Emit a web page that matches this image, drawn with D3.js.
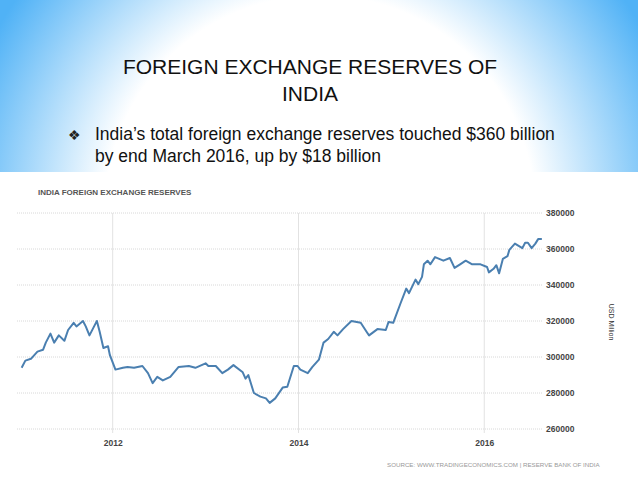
<!DOCTYPE html>
<html>
<head>
<meta charset="utf-8">
<script src="https://cdn.jsdelivr.net/npm/d3@7"></script>
<style>
  body { margin: 0; overflow: hidden; }
  text { font-family: "Liberation Sans", Arial, sans-serif; }
</style>
</head>
<body>
<div id="chart"></div>
<script>
// decimal years and reserves (USD million)
let years = [2011.02, 2011.06, 2011.12, 2011.19, 2011.25, 2011.28, 2011.33, 2011.37, 2011.42, 2011.48,
  2011.52, 2011.58, 2011.61, 2011.68, 2011.71, 2011.75, 2011.80, 2011.83, 2011.86, 2011.90,
  2011.95, 2011.97, 2012.03, 2012.11, 2012.16, 2012.23, 2012.32, 2012.38, 2012.43, 2012.48,
  2012.54, 2012.62, 2012.71, 2012.82, 2012.89, 2013.00, 2013.03, 2013.11, 2013.18, 2013.24,
  2013.30, 2013.40, 2013.43, 2013.46, 2013.52, 2013.59, 2013.65, 2013.69, 2013.75, 2013.83,
  2013.88, 2013.95, 2013.99, 2014.02, 2014.10, 2014.15, 2014.22, 2014.27, 2014.32, 2014.38,
  2014.42, 2014.48, 2014.57, 2014.67, 2014.74, 2014.76, 2014.85, 2014.94, 2014.97, 2015.02,
  2015.10, 2015.16, 2015.19, 2015.26, 2015.29, 2015.33, 2015.35, 2015.39, 2015.42, 2015.47,
  2015.56, 2015.63, 2015.68, 2015.74, 2015.80, 2015.87, 2015.96, 2016.03, 2016.05, 2016.10,
  2016.13, 2016.16, 2016.20, 2016.25, 2016.27, 2016.33, 2016.41, 2016.44, 2016.47, 2016.51,
  2016.55, 2016.58, 2016.62];
let reserves = [294000, 298000, 299000, 303000, 304000, 308000, 313000, 308000, 312000, 309000,
  315000, 319000, 317000, 320000, 317000, 312000, 317000, 320000, 314000, 305000,
  306000, 301000, 293000, 294000, 294500, 294000, 295000, 291000, 285500, 289000,
  287000, 289000, 294500, 295000, 294000, 296500, 295000, 295000, 291000, 293000,
  295500, 291500, 288000, 290000, 280000, 278000, 277000, 274500, 277000, 283000,
  283500, 295000, 295000, 293000, 291000, 294500, 298500, 308000, 310000, 314000,
  312000, 315500, 320000, 319000, 313500, 312000, 315500, 315000, 319500, 319000,
  330000, 338000, 335500, 343000, 340500, 344500, 351500, 353500, 351500, 355500,
  353500, 355000, 349500, 351500, 353500, 351500, 351500, 350000, 347000, 349000,
  351000, 346500, 354500, 356000, 359500, 363000, 360500, 363500, 363500, 360500,
  363000, 365500, 365500];
let yTicks = [260000, 280000, 300000, 320000, 340000, 360000, 380000];
let xTicks = [2012, 2014, 2016];

let width = 638;
let height = 479;

let svg = d3.select("#chart").append("svg")
  .attr("width", width)
  .attr("height", height);

/* slide background */
let grad = svg.append("defs").append("radialGradient")
  .attr("id", "bg")
  .attr("gradientUnits", "userSpaceOnUse")
  .attr("cx", 320).attr("cy", 210)
  .attr("r", 370);
grad.append("stop").attr("offset", "58%").attr("stop-color", "#ffffff");
grad.append("stop").attr("offset", "100%").attr("stop-color", "#50b2f6");

svg.append("rect").attr("width", width).attr("height", height).attr("fill", "url(#bg)");
svg.append("rect").attr("y", 172).attr("width", width).attr("height", height - 172).attr("fill", "#fff");

svg.append("text").attr("x", 310).attr("y", 74).attr("text-anchor", "middle")
  .style("font-size", "21px").attr("fill", "#111").text("FOREIGN EXCHANGE RESERVES OF");
svg.append("text").attr("x", 310).attr("y", 101).attr("text-anchor", "middle")
  .style("font-size", "21px").attr("fill", "#111").text("INDIA");

svg.append("text").attr("x", 68).attr("y", 140)
  .style("font-size", "14px").attr("fill", "#222").text("❖");
svg.append("text").attr("x", 95).attr("y", 140)
  .style("font-size", "17.5px").attr("fill", "#111")
  .text("India’s total foreign exchange reserves touched $360 billion");
svg.append("text").attr("x", 95).attr("y", 162)
  .style("font-size", "17.5px").attr("fill", "#111")
  .text("by end March 2016, up by $18 billion");

/* chart */
let xScale = d3.scaleLinear().domain([2010.97, 2016.6]).range([17, 540]);
let yScale = d3.scaleLinear().domain([260000, 380000]).range([429, 213]);

svg.append("text").attr("x", 38).attr("y", 195)
  .style("font-size", "8px").style("font-weight", "bold").attr("fill", "#555")
  .text("INDIA FOREIGN EXCHANGE RESERVES");

svg.append("g").selectAll("line").data(yTicks).enter().append("line")
  .attr("x1", 17).attr("x2", 542)
  .attr("y1", d => yScale(d)).attr("y2", d => yScale(d))
  .attr("stroke", "#d8d8d8").attr("stroke-dasharray", "1,1");

svg.append("g").selectAll("line").data(xTicks).enter().append("line")
  .attr("x1", d => xScale(d)).attr("x2", d => xScale(d))
  .attr("y1", 213).attr("y2", 433)
  .attr("stroke", "#e2e2e2");

let xAxis = d3.axisBottom(xScale).tickValues(xTicks).tickFormat(d3.format("d")).tickSize(0);
svg.append("g").attr("transform", "translate(0,437)").call(xAxis)
  .call(g => g.select(".domain").remove())
  .selectAll("text").style("font-size", "8.5px").style("font-weight", "bold").attr("fill", "#444");

let yAxis = d3.axisRight(yScale).tickValues(yTicks).tickFormat(d3.format("d")).tickSize(0);
svg.append("g").attr("transform", "translate(543,0)").call(yAxis)
  .call(g => g.select(".domain").remove())
  .selectAll("text").style("font-size", "8.5px").style("font-weight", "bold").attr("fill", "#444");

svg.append("text").attr("transform", "translate(609,322) rotate(90)")
  .attr("text-anchor", "middle").style("font-size", "7px").attr("fill", "#333")
  .text("USD Million");

svg.append("text").attr("x", 387).attr("y", 467)
  .style("font-size", "6.2px").attr("fill", "#999")
  .text("SOURCE: WWW.TRADINGECONOMICS.COM | RESERVE BANK OF INDIA");

let line = d3.line()
  .x(d => xScale(d[0]))
  .y(d => yScale(d[1]));

svg.append("path")
  .attr("d", line(d3.zip(years, reserves)))
  .attr("fill", "none")
  .attr("stroke", "#4a7fb0")
  .attr("stroke-width", 2)
  .attr("stroke-linejoin", "round");
</script>
</body>
</html>
